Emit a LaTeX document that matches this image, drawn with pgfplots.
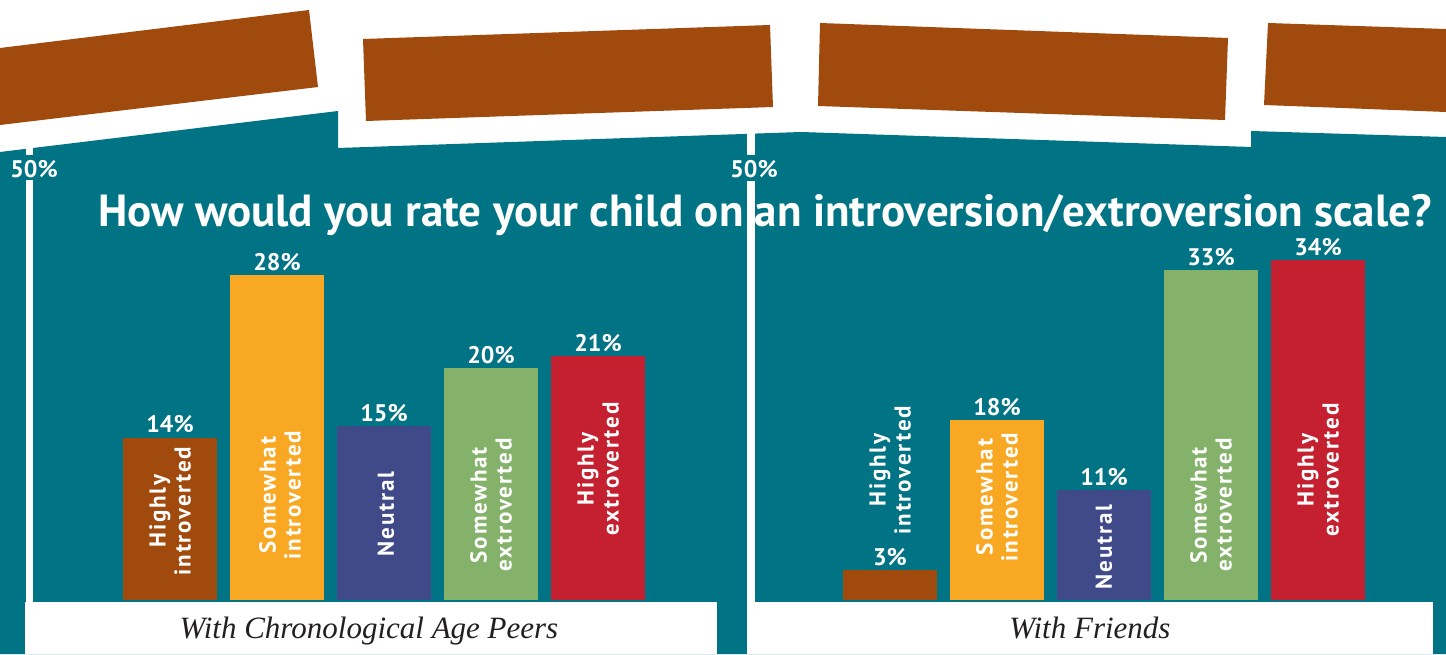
\documentclass[border=0pt]{standalone}
\usepackage{fontspec}
\setmainfont{PT Sans}
\newfontfamily\catfont[LetterSpace=8]{PT Sans}
\newfontfamily\capfont{Liberation Serif}
\usepackage{pgfplots}
\pgfplotsset{compat=1.18}
\definecolor{bgteal}{RGB}{0,115,133}
\definecolor{cbrown}{RGB}{161,74,14}
\definecolor{corange}{RGB}{249,168,36}
\definecolor{cnavy}{RGB}{64,74,136}
\definecolor{cgreen}{RGB}{133,178,106}
\definecolor{cred}{RGB}{196,32,47}
\newcommand{\lab}{\bfseries\fontsize{24}{24}\selectfont}
\pgfplotsset{
  panel/.style={
    scale only axis, width=535pt, height=460pt,
    xmin=-0.5, xmax=4.5, ymin=0,
    hide axis, clip=false,
    ybar, bar width=94pt, bar shift=0pt,
    /pgf/number format/assume math mode=true,
    nodes near coords={\pgfmathprintnumber{\pgfplotspointmeta}\%},
    every node near coord/.append style={font=\lab, text=white, anchor=south, yshift=1pt},
  }
}
\begin{document}
\begin{tikzpicture}
\begin{scope}[x=1pt,y=1pt]
\fill[white] (0,0) rectangle (1446,654);
% teal background
\fill[bgteal] (0,502) -- (338,543) -- (338,506) -- (801,522) -- (1251,507) -- (1251,523) -- (1446,517) -- (1446,0) -- (0,0) -- cycle;
% brown blocks
\fill[cbrown] (0,606) -- (309,644) -- (318,567) -- (0,529) -- cycle;
\fill[cbrown] (363,615) -- (770,629) -- (773,547) -- (366,533) -- cycle;
\fill[cbrown] (820,631) -- (1228,616) -- (1225,534) -- (818,548) -- cycle;
\fill[cbrown] (1268,631) -- (1446,625) -- (1446,542) -- (1264,549) -- cycle;
% white axis lines
\fill[white] (26,499) rectangle (33,509);
\fill[white] (26,52) rectangle (33,474);
\fill[white] (747,499) rectangle (755,523);
\fill[white] (747,52) rectangle (755,473);
\node[font=\lab, text=white, inner sep=0pt] at (34,485) {50\%};
\node[font=\lab, text=white, inner sep=0pt] at (754,485) {50\%};
% title
\node[anchor=base, text=white, inner sep=0pt, font=\bfseries\fontsize{45}{50}\selectfont] at (765,427) {How would you rate your child on an introversion/extroversion scale?};
\end{scope}
% left panel
\begin{axis}[panel, at={(116.5pt,54pt)}, anchor=south west, ymax=39.66]
\addplot[fill=cbrown, draw=none] coordinates {(0,14)};
\addplot[fill=corange, draw=none] coordinates {(1,28)};
\addplot[fill=cnavy, draw=none] coordinates {(2,15)};
\addplot[fill=cgreen, draw=none] coordinates {(3,20)};
\addplot[fill=cred, draw=none] coordinates {(4,21)};
\end{axis}
% right panel
\begin{axis}[panel, at={(836.5pt,54pt)}, anchor=south west, ymax=46]
\addplot[fill=cbrown, draw=none] coordinates {(0,3)};
\addplot[fill=corange, draw=none] coordinates {(1,18)};
\addplot[fill=cnavy, draw=none] coordinates {(2,11)};
\addplot[fill=cgreen, draw=none] coordinates {(3,33)};
\addplot[fill=cred, draw=none] coordinates {(4,34)};
\end{axis}
\begin{scope}[x=1pt,y=1pt]
% category labels
\tikzset{cat/.style={rotate=90, align=center, text=white, font=\catfont\bfseries\fontsize{23}{25}\selectfont, inner sep=0pt}}
\node[cat] at (170,143) {Highly\\introverted};
\node[cat] at (280,159) {Somewhat\\introverted};
\node[cat] at (386,140) {Neutral};
\node[cat] at (491,149) {Somewhat\\extroverted};
\node[cat] at (598,185) {Highly\\extroverted};
\node[cat] at (890,184) {Highly\\introverted};
\node[cat] at (997,157) {Somewhat\\introverted};
\node[cat] at (1104,107) {Neutral};
\node[cat] at (1211,149) {Somewhat\\extroverted};
\node[cat] at (1318,184) {Highly\\extroverted};
% caption boxes
\fill[white] (25,0) rectangle (717,52);
\fill[white] (747,0) rectangle (1433,52);
\node[anchor=base, inner sep=0pt, text={rgb,255:red,35;green,31;blue,32}, font=\capfont\itshape\fontsize{31}{33}\selectfont] at (369,16) {With Chronological Age Peers};
\node[anchor=base, inner sep=0pt, text={rgb,255:red,35;green,31;blue,32}, font=\capfont\itshape\fontsize{31}{33}\selectfont] at (1090,16) {With Friends};
\end{scope}
\end{tikzpicture}
\end{document}
